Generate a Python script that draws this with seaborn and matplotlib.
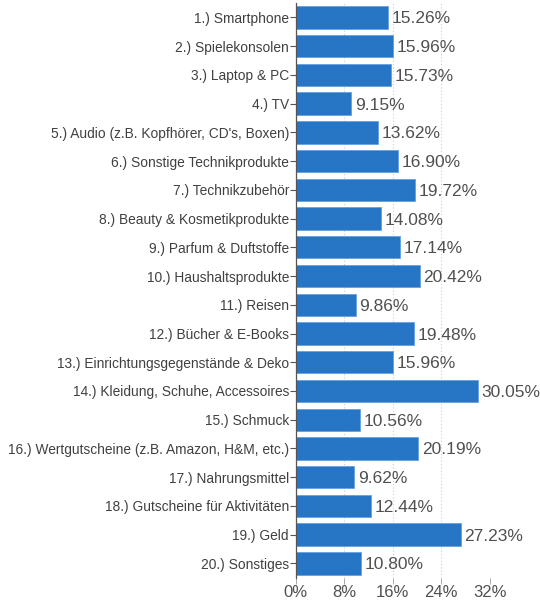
import pandas as pd
import seaborn as sns
from matplotlib import pyplot as plt

categories = [
    "1.) Smartphone", "2.) Spielekonsolen", "3.) Laptop & PC", "4.) TV",
    "5.) Audio (z.B. Kopfhörer, CD's, Boxen)", "6.) Sonstige Technikprodukte",
    "7.) Technikzubehör", "8.) Beauty & Kosmetikprodukte", "9.) Parfum & Duftstoffe",
    "10.) Haushaltsprodukte", "11.) Reisen", "12.) Bücher & E-Books",
    "13.) Einrichtungsgegenstände & Deko", "14.) Kleidung, Schuhe, Accessoires",
    "15.) Schmuck", "16.) Wertgutscheine (z.B. Amazon, H&M, etc.)",
    "17.) Nahrungsmittel", "18.) Gutscheine für Aktivitäten", "19.) Geld",
    "20.) Sonstiges",
]
shares = [15.26, 15.96, 15.73, 9.15, 13.62, 16.90, 19.72, 14.08, 17.14, 20.42,
          9.86, 19.48, 15.96, 30.05, 10.56, 20.19, 9.62, 12.44, 27.23, 10.80]
x_ticks = [0, 8, 16, 24, 32]

df = pd.DataFrame({"category": categories, "share": shares})

sns.set_style("white")
plt.rcParams['font.family'] = ['Liberation Sans', 'DejaVu Sans']

fig = plt.figure(figsize=(5.4, 6), dpi=100)
ax = fig.add_axes([0.548, 0.037, 0.359, 0.958])

sns.barplot(data=df, x="share", y="category", orient="h", color="#2776c6",
            saturation=1, width=0.78, edgecolor="#5b9be0", linewidth=0.5, ax=ax)

for i, v in enumerate(shares):
    ax.text(v + 0.6, i, f"{v:.2f}%", va="center_baseline", ha="left",
            fontsize=12.5, color="#505050")

ax.set_xlim(0, 32)
ax.set_ylim(19.5, -0.5)
ax.set_xticks(x_ticks)
ax.set_xticklabels([f"{t}%" for t in x_ticks], fontsize=12, color="#505050")
ax.tick_params(axis="y", labelsize=9.9, labelcolor="#404040", length=4, width=0.8,
               color="#555555", pad=1, left=True)
ax.tick_params(axis="x", length=4, width=0.6, color="#999999", pad=1, bottom=True)
ax.set_xlabel("")
ax.set_ylabel("")

for t in x_ticks[1:]:
    ax.axvline(t, color="#cccccc", linestyle=(0, (1, 2)), linewidth=0.8, zorder=0)

for s in ["top", "right", "bottom"]:
    ax.spines[s].set_visible(False)
ax.spines["left"].set_color("#555555")
ax.spines["left"].set_linewidth(0.9)

plt.savefig("out.png", dpi=100)
